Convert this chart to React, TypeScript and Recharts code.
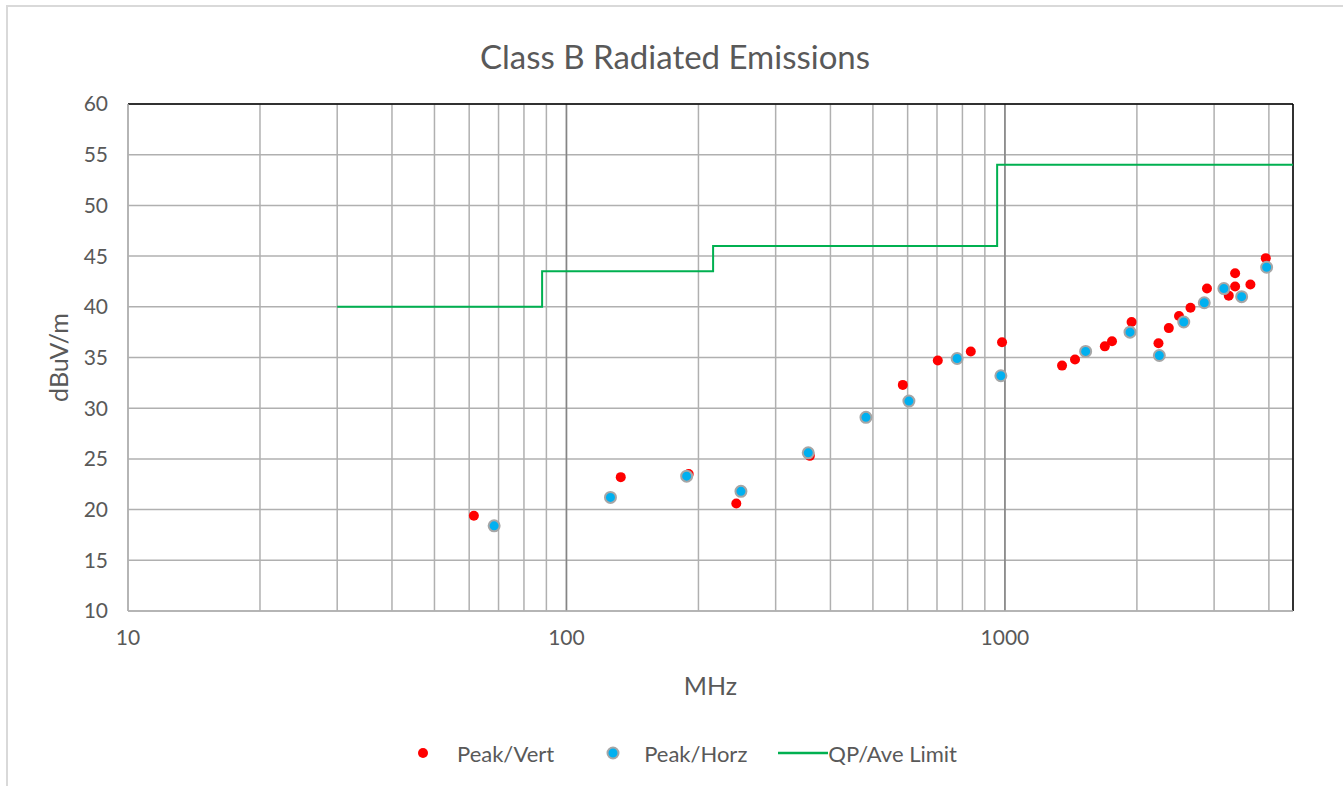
import React from 'react';
import {
  ComposedChart,
  Scatter,
  Line,
  XAxis,
  YAxis,
  CartesianGrid,
  ReferenceLine,
  Label,
} from 'recharts';

// Peak / vertical polarization (MHz, dBuV/m)
const vertFreq = [61.5, 133, 190, 244, 359, 585, 703, 836, 985, 1350, 1445, 1690, 1755, 1945, 2240, 2365, 2495, 2650, 2890, 3240, 3350, 3350, 3630, 3935];
const vertLevel = [19.4, 23.2, 23.5, 20.6, 25.3, 32.3, 34.7, 35.6, 36.5, 34.2, 34.8, 36.1, 36.6, 38.5, 36.4, 37.9, 39.1, 39.9, 41.8, 41.1, 43.3, 42.0, 42.2, 44.8];

// Peak / horizontal polarization
const horzFreq = [68.4, 126, 188, 250, 356, 482, 604, 778, 979, 1528, 1929, 2250, 2558, 2849, 3158, 3467, 3953];
const horzLevel = [18.4, 21.2, 23.3, 21.8, 25.6, 29.1, 30.7, 34.9, 33.2, 35.6, 37.5, 35.2, 38.5, 40.4, 41.8, 41.0, 43.9];

// QP / average limit steps
const limitFreq = [30, 88, 216, 960, 4540];
const limitLevel = [40, 43.5, 46, 54, 54];

const xTicks = [10, 20, 30, 40, 50, 60, 70, 80, 90, 100, 200, 300, 400, 500, 600, 700, 800, 900, 1000, 2000, 3000, 4000];
const yTicks = [10, 15, 20, 25, 30, 35, 40, 45, 50, 55, 60];
const decades = [100, 1000];

const zip = (fs: number[], vs: number[]) => fs.map((f, i) => ({ f, v: vs[i] }));
const vertData = zip(vertFreq, vertLevel);
const horzData = zip(horzFreq, horzLevel);
const limitData = zip(limitFreq, limitLevel);

const FONT = 'Lato, "Open Sans", sans-serif';
const TEXT = '#595959';
const GRID = '#b0b0b0';

const RedDot = (props: any) => <circle cx={props.cx} cy={props.cy} r={5} fill="#ff0000" />;
const BlueDot = (props: any) => (
  <circle cx={props.cx} cy={props.cy} r={5.5} fill="#00b0f0" stroke="#a6a6a6" strokeWidth={2} />
);

const App: React.FC = () => {
  const W = 1343;
  const H = 786;
  return (
    <div style={{ position: 'absolute', left: 0, top: 0, width: W, height: H, background: '#fff', fontFamily: FONT }}>
      <div
        style={{
          position: 'absolute', left: 6, top: 5, width: W - 6, height: H - 5, boxSizing: 'border-box',
          borderLeft: '2px solid #d9d9d9', borderTop: '2px solid #d9d9d9',
        }}
      />
      <div style={{ position: 'absolute', left: 7, width: W - 7, top: 36, textAlign: 'center', fontSize: 33, color: TEXT, lineHeight: '40px' }}>
        Class B Radiated Emissions
      </div>
      <div style={{ position: 'absolute', left: 0, top: 0 }}>
        <ComposedChart width={W} height={H} margin={{ top: 104, right: 50, bottom: 85, left: 0 }}>
          <CartesianGrid stroke={GRID} strokeWidth={1.5} />
          <XAxis
            dataKey="f"
            type="number"
            scale="log"
            domain={[10, 4540]}
            allowDataOverflow
            ticks={xTicks}
            interval={0}
            tickFormatter={(v: number) => (v === 10 || v === 100 || v === 1000 ? String(v) : '')}
            tickLine={false}
            tickMargin={13}
            height={90}
            stroke={GRID}
            strokeWidth={1.5}
            tick={{ fill: TEXT, fontSize: 21, fontFamily: FONT }}
          >
            <Label value="MHz" position="insideBottom" offset={6} style={{ fill: TEXT, fontSize: 25, fontFamily: FONT }} />
          </XAxis>
          <YAxis
            dataKey="v"
            type="number"
            domain={[10, 60]}
            ticks={yTicks}
            interval={0}
            width={128}
            tickLine={false}
            tickMargin={14}
            stroke={GRID}
            strokeWidth={1.5}
            tick={{ fill: TEXT, fontSize: 21, fontFamily: FONT }}
          >
            <Label
              content={(p: any) => {
                const vb = p.viewBox;
                const cx = 58;
                const cy = vb.y + vb.height / 2;
                return (
                  <text x={cx} y={cy} transform={`rotate(-90 ${cx} ${cy})`} textAnchor="middle" dominantBaseline="central"
                    fill={TEXT} fontSize={25} fontFamily={FONT}>
                    dBuV/m
                  </text>
                );
              }}
            />
          </YAxis>
          {decades.map((d) => (
            <ReferenceLine key={d} x={d} stroke="#858585" strokeWidth={1.5} />
          ))}
          <ReferenceLine y={60} stroke="#000" strokeWidth={1.5} />
          <ReferenceLine x={4540} stroke="#000" strokeWidth={1.5} />
          <Line
            data={limitData}
            dataKey="v"
            type="stepAfter"
            stroke="#00b050"
            strokeWidth={2}
            dot={false}
            activeDot={false}
            isAnimationActive={false}
          />
          <Scatter data={vertData} dataKey="v" shape={<RedDot />} isAnimationActive={false} />
          <Scatter data={horzData} dataKey="v" shape={<BlueDot />} isAnimationActive={false} />
        </ComposedChart>
      </div>
      <div
        style={{
          position: 'absolute', left: 418, top: 739, height: 28, display: 'flex',
          alignItems: 'center', fontSize: 22, color: TEXT, whiteSpace: 'nowrap',
        }}
      >
        <svg width={10} height={10} style={{ marginRight: 29 }}>
          <circle cx={5} cy={5} r={5} fill="#ff0000" />
        </svg>
        <span style={{ marginRight: 52 }}>Peak/Vert</span>
        <svg width={14} height={14} style={{ marginRight: 24 }}>
          <circle cx={7} cy={7} r={5.5} fill="#00b0f0" stroke="#a6a6a6" strokeWidth={2} />
        </svg>
        <span style={{ marginRight: 31 }}>Peak/Horz</span>
        <svg width={50} height={6}>
          <line x1={0} y1={3} x2={50} y2={3} stroke="#00b050" strokeWidth={2.5} />
        </svg>
        <span>QP/Ave Limit</span>
      </div>
    </div>
  );
};

export default App;
